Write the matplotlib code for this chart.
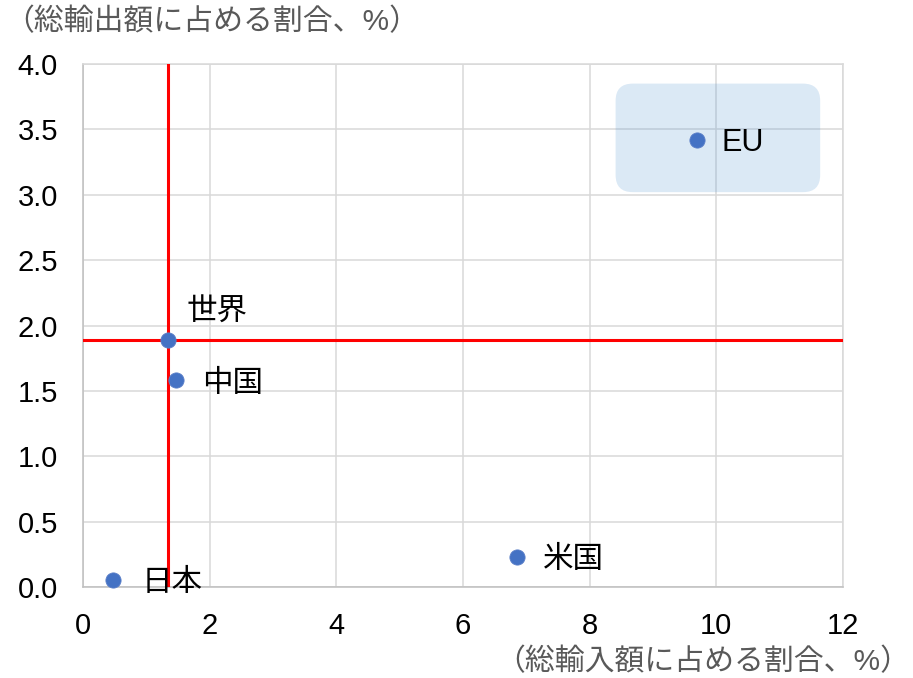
import matplotlib.pyplot as plt
from matplotlib.patches import FancyBboxPatch

plt.rcParams['font.family'] = ['Liberation Sans', 'Noto Sans CJK JP']

# 地域別：総輸入額・総輸出額に占める割合（%）
regions = ["日本", "世界", "中国", "米国", "EU"]
import_share = [0.47, 1.34, 1.47, 6.85, 9.69]
export_share = [0.05, 1.89, 1.58, 0.23, 3.42]

# 世界平均の基準線
world_x = 1.34
world_y = 1.89

# ラベルの位置（点からのずれ、ピクセル）
label_offsets = [(29, -3), (19, 27), (26, -4), (26, -3), (25, -3)]

fig = plt.figure(figsize=(9.13, 6.78), dpi=100)
ax = fig.add_axes([0.0909, 0.1342, 0.8324, 0.7714])

ax.set_xlim(0, 12)
ax.set_ylim(0, 4.0)
ax.set_xticks(range(0, 13, 2))
ax.set_yticks([i / 2 for i in range(9)])
ax.yaxis.set_major_formatter(plt.FormatStrFormatter('%.1f'))
ax.tick_params(length=0, labelsize=21, pad=18, colors='black')
ax.grid(True, color='#D9D9D9', linewidth=1.1, zorder=0)
ax.set_axisbelow(True)
for side, sp in ax.spines.items():
    sp.set_color('#BFBFBF' if side in ('left', 'bottom') else '#D9D9D9')
    sp.set_linewidth(1.1)

# EU を囲む網掛け
box = FancyBboxPatch((8.41, 3.02), 3.23, 0.83,
                     boxstyle="round,pad=0,rounding_size=0.27",
                     mutation_aspect=0.485,
                     facecolor='#5B9BD5', alpha=0.22, edgecolor='none', zorder=2)
ax.add_patch(box)

ax.axvline(world_x, color='#FF0000', linewidth=2.2, zorder=3)
ax.axhline(world_y, color='#FF0000', linewidth=2.2, zorder=3)

ax.scatter(import_share, export_share, s=120, color='#4472C4', zorder=4,
           edgecolors='#5B7FC8', linewidths=0.6, clip_on=False)

for name, x, y, off in zip(regions, import_share, export_share, label_offsets):
    ax.annotate(name, (x, y), xytext=off, textcoords='offset pixels',
                fontsize=22, va='center', ha='left', color='black', zorder=5,
                annotation_clip=False)

fig.text(0.005, 0.967, "（総輸出額に占める割合、%）", fontsize=21.5, color='#595959',
         ha='left', va='center')
fig.text(0.997, 0.024, "（総輸入額に占める割合、%）", fontsize=21.5, color='#595959',
         ha='right', va='center')

fig.savefig('out.png', dpi=100)
